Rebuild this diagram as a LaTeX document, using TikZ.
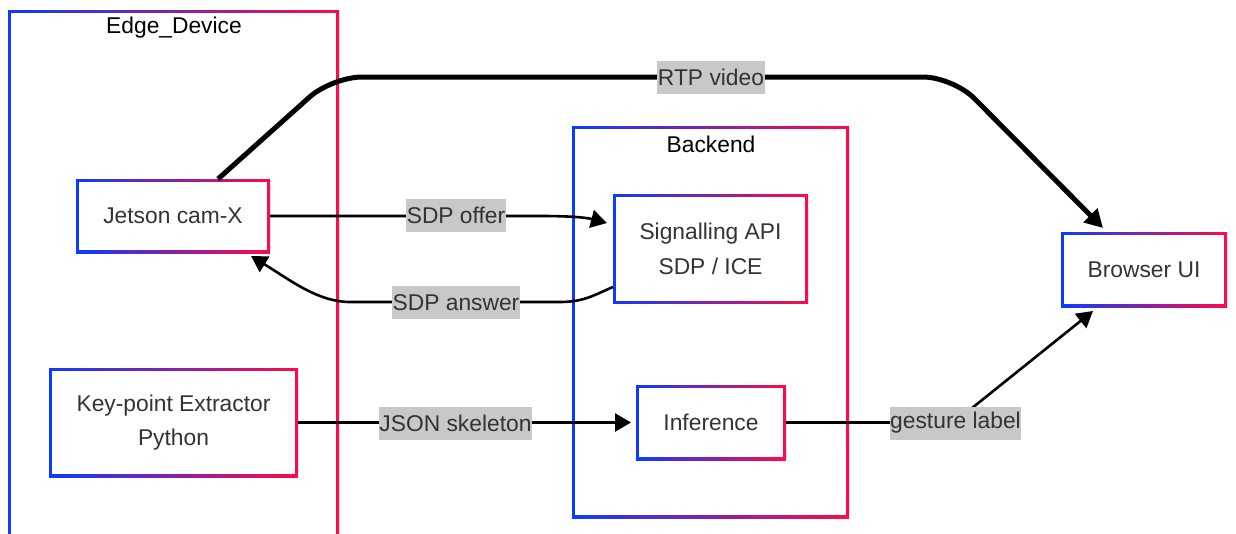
\documentclass[tikz,border=0pt]{standalone}
\usepackage{fontspec}
\setmainfont{Liberation Sans}
\usetikzlibrary{arrows.meta}
\definecolor{gblue}{HTML}{0A3CFF}
\definecolor{gred}{HTML}{FF0A4A}
\definecolor{txtgray}{HTML}{333333}
\definecolor{lblbg}{HTML}{C8C8C8}
\tikzset{
  gbox/.style={rectangle, inner sep=0pt, outer sep=0pt, left color=gblue, right color=gred,
    text=txtgray, align=center, font=\fontsize{22.8}{34.5}\selectfont,
    path picture={\fill[white] ([xshift=2.6pt,yshift=-2.6pt]path picture bounding box.north west)
      rectangle ([xshift=-2.6pt,yshift=2.6pt]path picture bounding box.south east);}},
  ctitle/.style={text=black, font=\fontsize{22.8}{26}\selectfont, inner sep=0pt},
  elabel/.style={fill=lblbg, text=txtgray, font=\fontsize{22.8}{26}\selectfont,
    inner xsep=0.5pt, inner ysep=0pt, minimum height=33pt},
  thinedge/.style={line width=2.6pt, -{Triangle[length=16pt,width=18pt]}},
  thickedge/.style={line width=5pt, -{Triangle[length=18pt,width=19pt]}}
}
\begin{document}
\begin{tikzpicture}[x=1pt,y=-1pt]
\clip (0,0) rectangle (1236,533);
\fill[white] (0,0) rectangle (1236,533);
% clusters
\node[gbox, minimum width=331pt, minimum height=532pt] (edge) at (173.5,276) {};
\node[ctitle] (edget) at (174,28) {Edge\_Device};
\node[gbox, minimum width=277pt, minimum height=392pt] (back) at (710.5,322) {};
\node[ctitle] (backt) at (711,144) {Backend};
% nodes
\node[gbox, minimum width=194pt, minimum height=74pt] (jet) at (173,216) {Jetson cam-X};
\node[gbox, minimum width=249pt, minimum height=109pt] (kp) at (173.5,422.5) {Key-point Extractor\\Python};
\node[gbox, minimum width=195pt, minimum height=109pt] (sig) at (710.5,249) {Signalling API\\SDP / ICE};
\node[gbox, minimum width=150pt, minimum height=75pt] (inf) at (711,422.5) {Inference};
\node[gbox, minimum width=166pt, minimum height=75pt] (bro) at (1144,269.5) {Browser UI};
% connector ends
\coordinate (rtps) at (218,179);
\coordinate (rtpt) at (1103,228);
\coordinate (offt) at (607,223);
\coordinate (anss) at (613,287);
\coordinate (anst) at (251,256);
\coordinate (gest) at (1093,311);
% connectors
\draw[thickedge, rounded corners=30pt] (rtps) -- (332,77) -- (953,77) -- (rtpt);
\draw[thinedge] (jet.east) -- (540,216) .. controls (575,216) and (588,218) .. (offt);
\draw[thinedge] (anss) .. controls (596,294) and (585,302) .. (560,302) -- (350,302)
  .. controls (318,302) and (290,280) .. (anst);
\draw[thinedge, shorten >=5pt] (kp.east) -- (inf.west);
\draw[thinedge, rounded corners=20pt] (inf.east) -- (954,422.5) -- (gest);
% labels
\node[elabel] (lrtp) at (711,77) {RTP video};
\node[elabel] (loff) at (456,215.5) {SDP offer};
\node[elabel] (lans) at (456,302.5) {SDP answer};
\node[elabel] (ljson) at (455.5,423) {JSON skeleton};
\node[elabel] (lges) at (955.5,423) {gesture label};
\end{tikzpicture}
\end{document}
